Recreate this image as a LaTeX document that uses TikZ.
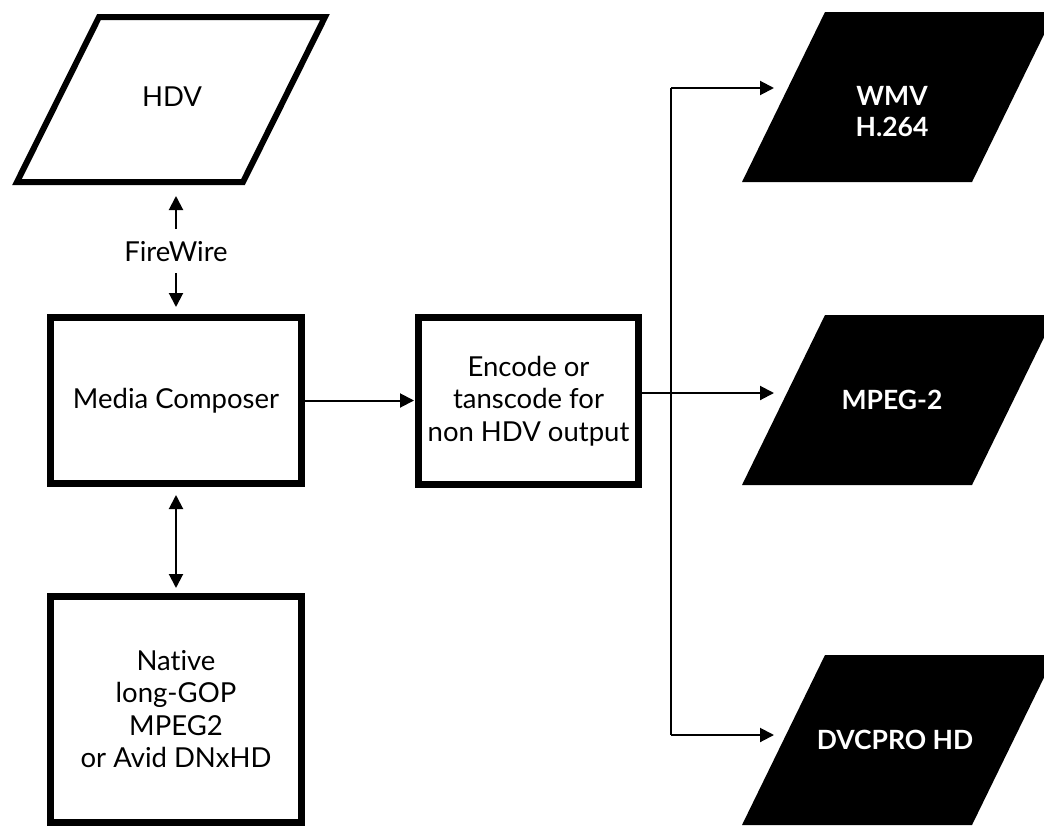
\documentclass[tikz,border=0pt]{standalone}
\usepackage{fontspec}
\setmainfont{Lato}[Ligatures={NoCommon}]
\usetikzlibrary{arrows.meta}
\begin{document}
\begin{tikzpicture}[x=1pt,y=-1pt,
  lbl/.style={font=\fontsize{27.5}{32.5}\selectfont, align=center, text=black, inner sep=0pt},
  wlbl/.style={font=\fontsize{26.5}{31}\selectfont\bfseries, align=center, text=white, inner sep=0pt},
  thickbox/.style={draw=black, line width=7pt, fill=white, inner sep=0pt,
     font=\fontsize{27.5}{32.5}\selectfont, align=center},
  iobox/.style={draw=black, line width=6pt, fill=white, line join=miter},
  outbox/.style={fill=black},
  conn/.style={line width=2pt, -{Triangle[length=14pt,width=14pt]}},
  dconn/.style={line width=2pt, {Triangle[length=14pt,width=14pt]}-{Triangle[length=14pt,width=14pt]}},
  plain/.style={line width=2pt}]
\useasboundingbox (0,0) rectangle (1044,827);
\begin{scope}
\clip (0,0) rectangle (1044,827);
% HDV input
\draw[iobox] (17,182) -- (243,182) -- (325,17) -- (99,17) -- cycle;
\node[lbl] (hdv) at (172,97) {HDV};
\coordinate (hdvs) at (176,185);
% FireWire
\node[lbl] (fw) at (176,252) {FireWire};
\coordinate (fwt) at (176,229);
\coordinate (fwb) at (176,273);
% boxes
\node[thickbox, minimum width=251pt, minimum height=166pt] (mc) at (176,400.5) {Media Composer};
\node[thickbox, minimum width=220pt, minimum height=167pt] (enc) at (528.5,401) {Encode or\\tanscode for\\non HDV output};
\node[thickbox, minimum width=251pt, minimum height=225.5pt] (nat) at (176,709.25) {Native\\long-GOP\\MPEG2\\or Avid DNxHD};
% outputs
\fill[outbox] (742,182) -- (972,182) -- (1055,12) -- (825,12) -- cycle;
\fill[outbox] (742,485) -- (972,485) -- (1055,315) -- (825,315) -- cycle;
\fill[outbox] (742,825) -- (972,825) -- (1055,655) -- (825,655) -- cycle;
\node[wlbl] (wmv) at (892,112) {WMV\\H.264};
\node[wlbl] (mpg) at (892,400) {MPEG-2};
\node[wlbl] (dvc) at (895,740) {DVCPRO HD};
\end{scope}
% connectors
\draw[conn, shorten >=11pt] (fwt) -- (hdvs);
\draw[conn, shorten >=7pt] (fwb) -- (mc.north);
\draw[dconn, shorten <=8pt, shorten >=5pt] (mc.south) -- (nat.north);
\draw[conn, shorten >=1pt] (mc.east) -- (enc.west |- mc.east);
\coordinate (br) at (671,393);
\coordinate (brt) at (671,88);
\coordinate (brb) at (671,735);
\coordinate (wmvin) at (774,88);
\coordinate (mpgin) at (774,393);
\coordinate (dvcin) at (774,735);
\draw[plain] (enc.east |- br) -- (br);
\draw[plain] (brt) -- (brb);
\draw[conn] (brt) -- (wmvin);
\draw[conn] (br) -- (mpgin);
\draw[conn] (brb) -- (dvcin);
\end{tikzpicture}
\end{document}
